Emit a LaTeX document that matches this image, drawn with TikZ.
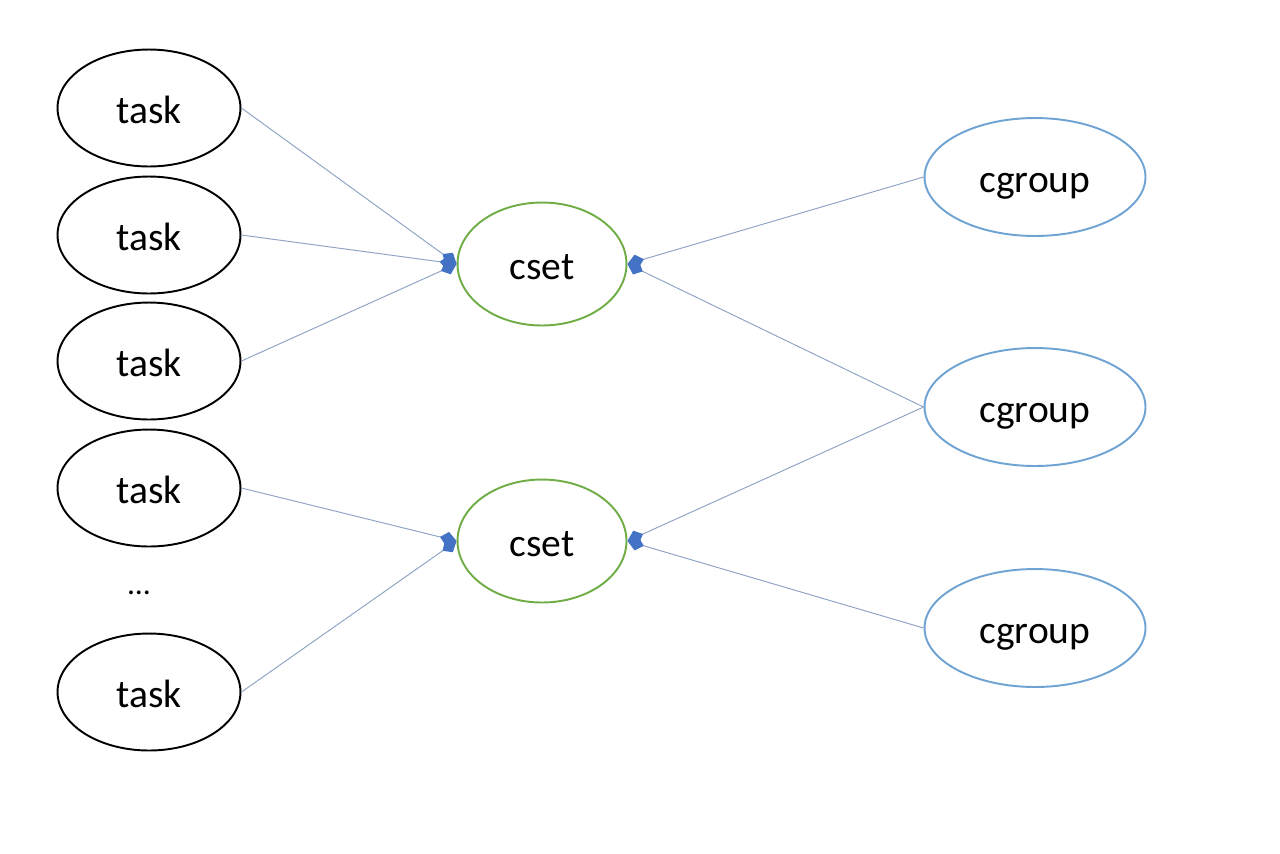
\documentclass[tikz,border=0pt]{standalone}
\usepackage{fontspec}
\setmainfont{Carlito}
\usepackage{tikz}
\usetikzlibrary{arrows.meta,shapes.geometric}
\definecolor{taskline}{HTML}{000000}
\definecolor{csetgreen}{HTML}{70AD47}
\definecolor{cgblue}{HTML}{6FA3D3}
\definecolor{linkgrey}{HTML}{8FA3C4}
\definecolor{tipblue}{HTML}{4472C4}
\tikzset{
  elp/.style={ellipse, draw=#1, fill=white, line width=1.1pt, inner sep=0pt,
              font=\fontsize{22.5}{26}\selectfont, text height=17.5pt, text depth=0pt},
  tsk/.style={elp=taskline, minimum width=3.66cm, minimum height=2.34cm},
  cst/.style={elp=csetgreen, minimum width=3.38cm, minimum height=2.46cm},
  cgp/.style={elp=cgblue, minimum width=4.42cm, minimum height=2.36cm},
  ar/.style={-{Kite[length=3.4mm,width=2.8mm,inset=1.5mm,color=tipblue,fill=tipblue]},
             line width=0.55pt, draw=linkgrey},
}

\begin{document}
\begin{tikzpicture}[x=0.02cm, y=-0.02cm]
  \useasboundingbox (0,0) rectangle (1280,853);
  \node[tsk] (t1) at (149,108) {task};
  \node[tsk] (t2) at (149,235) {task};
  \node[tsk] (t3) at (149,361) {task};
  \node[tsk] (t4) at (149,488) {task};
  \node[font=\fontsize{18}{22}\selectfont] (dots) at (139,593) {...};
  \node[tsk] (t5) at (149,692) {task};
  \node[cst] (c1) at (542,264) {cset};
  \node[cst] (c2) at (542,541) {cset};
  \node[cgp] (g1) at (1035,177) {cgroup};
  \node[cgp] (g2) at (1035,407) {cgroup};
  \node[cgp] (g3) at (1035,628) {cgroup};

  \draw[ar] (t1.east) -- (c1.west);
  \draw[ar] (t2.east) -- (c1.west);
  \draw[ar] (t3.east) -- (c1.west);
  \draw[ar] (t4.east) -- (c2.west);
  \draw[ar] (t5.east) -- (c2.west);
  \draw[ar] (g1.west) -- (c1.east);
  \draw[ar] (g2.west) -- (c1.east);
  \draw[ar] (g2.west) -- (c2.east);
  \draw[ar] (g3.west) -- (c2.east);
\end{tikzpicture}
\end{document}
